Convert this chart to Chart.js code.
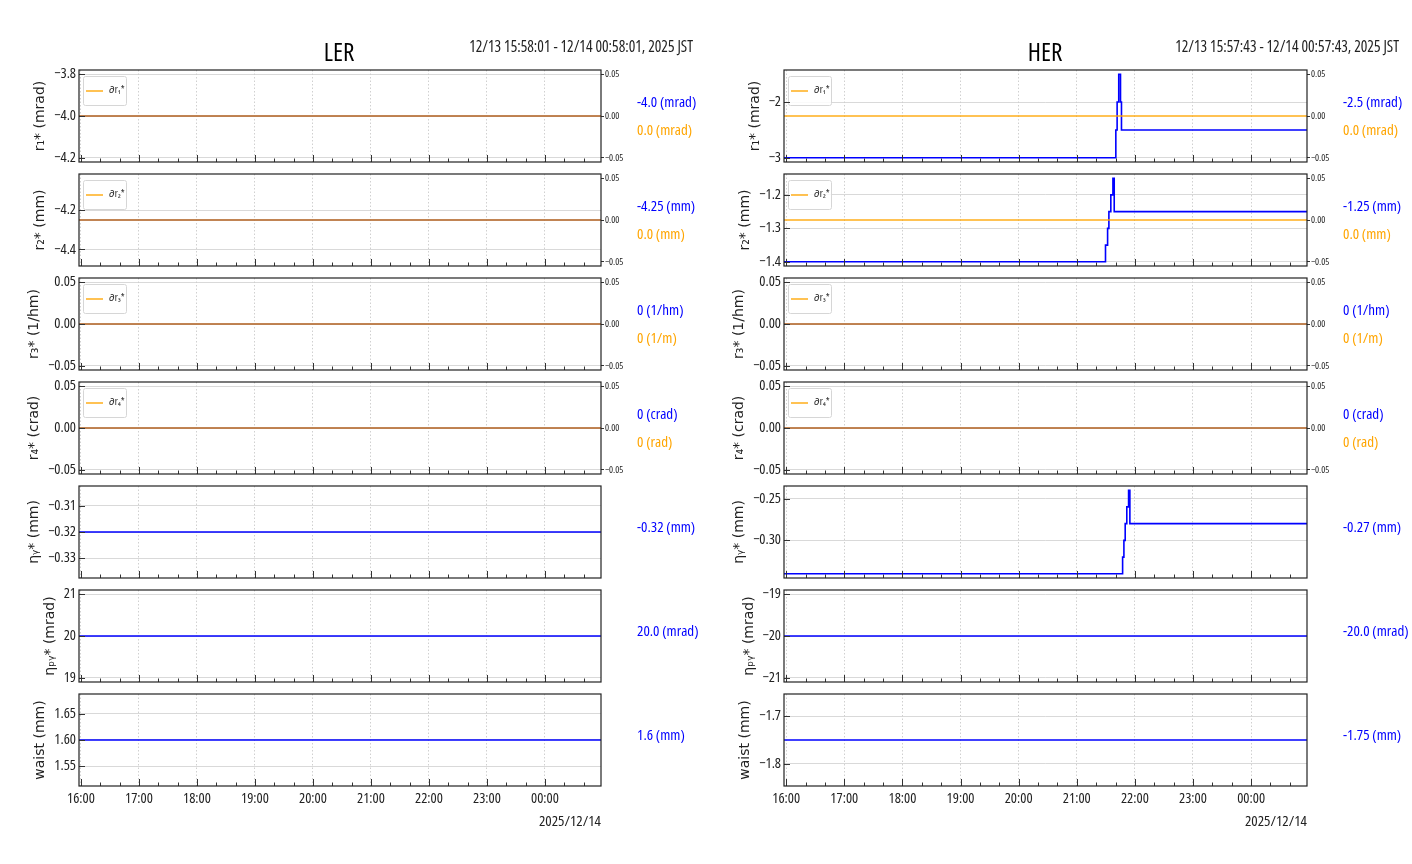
<!DOCTYPE html>
<html>
<head>
<meta charset="utf-8">
<title>LER / HER</title>
<script src="https://cdn.jsdelivr.net/npm/chart.js@4.4.1/dist/chart.umd.min.js"></script>
<style>
  body { margin: 0; background: #fff; }
  #page { position: relative; width: 1412px; height: 864px; overflow: hidden;
          font-family: 'Open Sans', sans-serif; font-stretch: condensed; color: #222; }
  #page canvas { position: absolute; }
  .txt { position: absolute; white-space: nowrap; line-height: 1; transform: translateY(-50%); }
</style>
</head>
<body>
<div id="page"></div>
<script>
    // Time axis
    const hourTicks = ['16:00', '17:00', '18:00', '19:00', '20:00', '21:00', '22:00', '23:00', '00:00'];
    const lerTimes = ['15:58:01', '00:58:01'];
    const herTimes = ['15:57:43', '00:57:43'];

    // LER values (flat over the whole window)
    const lerR1 = [-4.0, -4.0];
    const lerR2 = [-4.25, -4.25];
    const lerR3 = [0, 0];
    const lerR4 = [0, 0];
    const lerEtaY = [-0.32, -0.32];
    const lerEtaPy = [20, 20];
    const lerWaist = [1.6, 1.6];

    // HER values (steps around 21:30 - 21:55)
    const herR1Times = ['15:57:43', '21:40:20', '21:41:40', '21:43:20', '21:45:10', '21:46:10', '00:57:43'];
    const herR1 = [-3.0, -2.5, -2.0, -1.5, -2.0, -2.5, -2.5];
    const herR2Times = ['15:57:43', '21:29:40', '21:31:50', '21:33:10', '21:35:10', '21:37:20', '21:38:40', '00:57:43'];
    const herR2 = [-1.40, -1.35, -1.30, -1.25, -1.20, -1.15, -1.25, -1.25];
    const herR3 = [0, 0];
    const herR4 = [0, 0];
    const herEtaYTimes = ['15:57:43', '21:47:20', '21:48:40', '21:50:00', '21:51:40', '21:53:30', '21:54:50', '00:57:43'];
    const herEtaY = [-0.34, -0.32, -0.30, -0.28, -0.26, -0.24, -0.28, -0.28];
    const herEtaPy = [-20, -20];
    const herWaist = [-1.75, -1.75];

    // orange knob offsets (right axis)
    const knobValues = [0, 0];
    const knobLabels = ['\u2202r\u2081*', '\u2202r\u2082*', '\u2202r\u2083*', '\u2202r\u2084*'];

    // Axis labels / ticks
    const rowTitles = ['r\u2081* (mrad)', 'r\u2082* (mm)', 'r\u2083* (1/hm)', 'r\u2084* (crad)', '\u03b7\u1d67* (mm)', '\u03b7\u209a\u1d67* (mrad)', 'waist (mm)'];
    const rightTicks = [0.05, 0, -0.05];
    const lerTicks = [[-3.8, -4.0, -4.2], [-4.2, -4.4], [0.05, 0, -0.05], [0.05, 0, -0.05], [-0.31, -0.32, -0.33], [21, 20, 19], [1.65, 1.60, 1.55]];
    const lerLimits = [[-4.22, -3.78], [-4.484, -4.016], [-0.055, 0.055], [-0.055, 0.055], [-0.3376, -0.3024], [18.9, 21.1], [1.512, 1.688]];
    const lerDecimals = [1, 1, 2, 2, 2, 0, 2];
    const herTicks = [[-2, -3], [-1.2, -1.3, -1.4], [0.05, 0, -0.05], [0.05, 0, -0.05], [-0.25, -0.30], [-19, -20, -21], [-1.7, -1.8]];
    const herLimits = [[-3.075, -1.425], [-1.4125, -1.1375], [-0.055, 0.055], [-0.055, 0.055], [-0.345, -0.235], [-21.1, -18.9], [-1.846, -1.654]];
    const herDecimals = [0, 1, 2, 2, 2, 0, 1];

    // Side readouts
    const lerBlueText = ['-4.0 (mrad)', '-4.25 (mm)', '0 (1/hm)', '0 (crad)', '-0.32 (mm)', '20.0 (mrad)', '1.6 (mm)'];
    const lerOrangeText = ['0.0 (mrad)', '0.0 (mm)', '0 (1/m)', '0 (rad)'];
    const herBlueText = ['-2.5 (mrad)', '-1.25 (mm)', '0 (1/hm)', '0 (crad)', '-0.27 (mm)', '-20.0 (mrad)', '-1.75 (mm)'];
    const herOrangeText = ['0.0 (mrad)', '0.0 (mm)', '0 (1/m)', '0 (rad)'];

    const family = "'Open Sans', sans-serif";
    const BLUE = '#0000ff';
    const ORANGE = 'rgba(255,165,0,0.9)';
    Chart.defaults.font.family = family;
    Chart.defaults.font.weight = 'condensed'; // ends up as font-stretch in the canvas font string
    Chart.defaults.color = '#222';

    const page = document.getElementById('page');

    function toMin(s) {
      const [h, m, sec = 0] = s.split(':').map(Number);
      let v = h * 60 + m + sec / 60 - 960;
      if (h < 12) v += 1440;
      return v;
    }

    function fmt(v, d) {
      const s = Math.abs(v).toFixed(d);
      return v < 0 ? '\u2212' + s : s;
    }

    const measureCtx = document.createElement('canvas').getContext('2d');
    function textWidth(str, font) {
      measureCtx.font = font;
      return measureCtx.measureText(str).width;
    }

    // Frame + inward ticks, matplotlib style
    const framePlugin = {
      id: 'frame',
      afterDraw(chart) {
        const {ctx, chartArea: a, scales} = chart;
        ctx.save();
        ctx.strokeStyle = '#333';
        ctx.lineWidth = 1;
        ctx.beginPath();
        const x = scales.x;
        for (let m = Math.ceil(x.min / 20) * 20; m <= x.max; m += 20) {
          const px = Math.round(x.getPixelForValue(m)) + 0.5;
          const len = m % 60 === 0 ? 7 : 3.5;
          ctx.moveTo(px, a.bottom);
          ctx.lineTo(px, a.bottom - len);
        }
        scales.y.ticks.forEach(t => {
          const py = Math.round(scales.y.getPixelForValue(t.value)) + 0.5;
          ctx.moveTo(a.left, py);
          ctx.lineTo(a.left + 6, py);
        });
        ctx.stroke();
        ctx.strokeStyle = '#222';
        ctx.lineWidth = 1.2;
        ctx.strokeRect(a.left, a.top, a.right - a.left, a.bottom - a.top);
        ctx.restore();
      }
    };

    // Small boxed legend for the orange knob line
    const knobLegend = {
      id: 'knobLegend',
      afterDatasetsDraw(chart, args, opts) {
        if (!opts.text) return;
        const {ctx, chartArea: a} = chart;
        const x = a.left + 4, y = a.top + 6, w = 43, h = 29;
        ctx.save();
        ctx.fillStyle = 'rgba(255,255,255,0.85)';
        ctx.strokeStyle = '#d6d6d6';
        ctx.lineWidth = 1;
        ctx.beginPath();
        ctx.roundRect(x + 0.5, y + 0.5, w, h, 2);
        ctx.fill();
        ctx.stroke();
        ctx.strokeStyle = opts.color;
        ctx.lineWidth = 1.5;
        ctx.beginPath();
        ctx.moveTo(x + 3, y + h / 2 + 0.5);
        ctx.lineTo(x + 20, y + h / 2 + 0.5);
        ctx.stroke();
        ctx.fillStyle = '#222';
        ctx.textBaseline = 'middle';
        ctx.font = 'condensed 10px ' + family;
        ctx.fillText(opts.text, x + 26, y + h / 2);
        ctx.restore();
      }
    };

    const columns = [
      { name: 'LER', left: 0, axisW: 79, times: lerTimes, ticks: lerTicks, limits: lerLimits, dec: lerDecimals,
        series: [[lerTimes, lerR1], [lerTimes, lerR2], [lerTimes, lerR3], [lerTimes, lerR4], [lerTimes, lerEtaY], [lerTimes, lerEtaPy], [lerTimes, lerWaist]],
        blue: lerBlueText, orange: lerOrangeText, title: 'LER', range: '12/13 15:58:01 - 12/14 00:58:01, 2025 JST' },
      { name: 'HER', left: 706, axisW: 78, times: herTimes, ticks: herTicks, limits: herLimits, dec: herDecimals,
        series: [[herR1Times, herR1], [herR2Times, herR2], [herTimes, herR3], [herTimes, herR4], [herEtaYTimes, herEtaY], [herTimes, herEtaPy], [herTimes, herWaist]],
        blue: herBlueText, orange: herOrangeText, title: 'HER', range: '12/13 15:57:43 - 12/14 00:57:43, 2025 JST' }
    ];

    function addText(str, opts) {
      const d = document.createElement('div');
      d.className = 'txt';
      d.textContent = str;
      Object.assign(d.style, opts);
      page.appendChild(d);
    }

    function makePanel(col, r) {
      const last = r === 6;
      const hasKnob = r < 4;
      const top = 64 + 104 * r;
      const height = last ? 150 : 104;
      const cv = document.createElement('canvas');
      cv.width = 706;
      cv.height = height;
      cv.style.left = col.left + 'px';
      cv.style.top = top + 'px';
      page.appendChild(cv);

      const [times, vals] = col.series[r];
      const datasets = [{
        label: col.name + ' ' + rowTitles[r],
        data: times.map((t, i) => ({x: toMin(t), y: vals[i]})),
        yAxisID: 'y', borderColor: BLUE, borderWidth: 1.6, pointRadius: 0, stepped: true, order: 1
      }];
      if (hasKnob) {
        datasets.push({
          label: knobLabels[r],
          data: col.times.map((t, i) => ({x: toMin(t), y: knobValues[i]})),
          yAxisID: 'y2', borderColor: ORANGE, borderWidth: 1.5, pointRadius: 0, stepped: true, order: 0
        });
      }

      const tickLabels = col.ticks[r].map(v => fmt(v, col.dec[r]));
      const maxW = Math.max(...tickLabels.map(s => textWidth(s, 'condensed 14.5px ' + family)));
      const titleCenter = col.axisW - 3 - maxW - 13.5;

      const scales = {
        x: {
          type: 'linear', min: toMin(col.times[0]), max: toMin(col.times[1]),
          afterBuildTicks: s => { s.ticks = hourTicks.map(h => ({value: toMin(h)})); },
          afterFit: s => { s.height = last ? 52 : 0; s.paddingLeft = 0; s.paddingRight = 0; },
          ticks: { display: last, autoSkip: false, maxRotation: 0, padding: 4, font: {size: 14.5},
                   callback: (v, i) => hourTicks[i] },
          grid: { color: '#c4c4c4', lineWidth: 0.8, drawTicks: false },
          border: { display: false, dash: [1.5, 2] },
          title: { display: last, text: '2025/12/14', align: 'end', font: {size: 15}, padding: {top: 0, bottom: 7.6} }
        },
        y: {
          type: 'linear', position: 'left', min: col.limits[r][0], max: col.limits[r][1],
          afterBuildTicks: s => { s.ticks = col.ticks[r].map(v => ({value: v})); },
          afterFit: s => { s.width = col.axisW; s.paddingTop = 0; s.paddingBottom = 0; },
          ticks: { padding: 3, font: {size: 14.5}, callback: v => fmt(v, col.dec[r]) },
          grid: { color: '#cfcfcf', lineWidth: 0.8, drawTicks: false },
          border: { display: false },
          title: { display: true, text: rowTitles[r], font: {family: "'DejaVu Sans', sans-serif", size: 14, weight: 'normal'},
                   padding: {top: titleCenter - 8.4, bottom: 0} }
        }
      };
      if (hasKnob) {
        scales.y2 = {
          type: 'linear', position: 'right', min: -0.055, max: 0.055,
          afterBuildTicks: s => { s.ticks = rightTicks.map(v => ({value: v})); },
          afterFit: s => { s.width = 105; s.paddingTop = 0; s.paddingBottom = 0; },
          ticks: { padding: 1, font: {size: 9.5}, callback: v => fmt(v, 2) },
          grid: { drawOnChartArea: false, drawTicks: true, tickLength: 3, tickColor: '#333', tickWidth: 1 },
          border: { display: false }
        };
      }

      new Chart(cv, {
        type: 'line',
        data: { datasets },
        options: {
          responsive: false, animation: false, devicePixelRatio: 1,
          layout: { padding: { top: 6, bottom: last ? 0 : 6, left: 0, right: hasKnob ? 0 : 105 } },
          scales,
          plugins: {
            legend: { display: false }, tooltip: { enabled: false },
            knobLegend: hasKnob ? { text: knobLabels[r], color: ORANGE } : {}
          }
        },
        plugins: [framePlugin, knobLegend]
      });

      // readouts to the right of the panel
      const cy = 116 + 104 * r;
      const tx = (col.left + 637) + 'px';
      if (hasKnob) {
        addText(col.blue[r], {left: tx, top: (cy - 15) + 'px', fontSize: '15px', color: BLUE});
        addText(col.orange[r], {left: tx, top: (cy + 13) + 'px', fontSize: '15px', color: '#ffa500'});
      } else {
        addText(col.blue[r], {left: tx, top: (cy - 6) + 'px', fontSize: '15px', color: BLUE});
      }
    }

    columns.forEach(col => {
      for (let r = 0; r < 7; r++) makePanel(col, r);
      addText(col.title, {left: (col.left + 339) + 'px', top: '51px', fontSize: '25px', color: '#000',
                          transform: 'translate(-50%, -50%)'});
      addText(col.range, {right: (1412 - col.left - 693) + 'px', top: '47px', fontSize: '15.5px', color: '#222'});
    });
</script>
</body>
</html>
